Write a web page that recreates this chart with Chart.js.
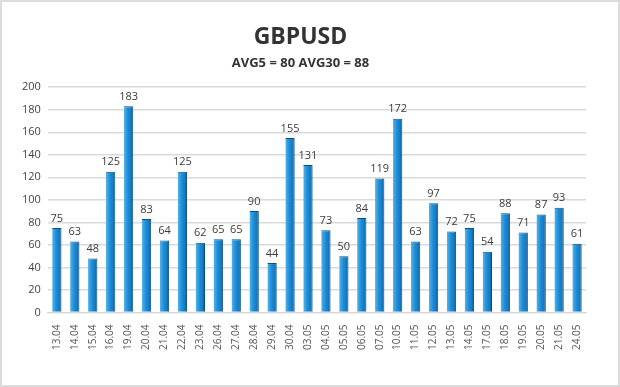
<!DOCTYPE html>
<html>
<head>
<meta charset="utf-8">
<script src="https://cdn.jsdelivr.net/npm/chart.js@4.4.1/dist/chart.umd.min.js"></script>
<style>
  html, body { margin: 0; padding: 0; background: #fff; }
  .frame { width: 616px; height: 383px; border: 2px solid #dcdcdc; position: relative; }
  canvas { display: block; }
</style>
</head>
<body>
<div class="frame"><canvas id="chart" width="616" height="383"></canvas></div>
<script>
// Данные графика
const dates = [
  "13.04", "14.04", "15.04", "16.04", "19.04", "20.04", "21.04", "22.04", "23.04", "26.04",
  "27.04", "28.04", "29.04", "30.04", "03.05", "04.05", "05.05", "06.05", "07.05", "10.05",
  "11.05", "12.05", "13.05", "14.05", "17.05", "18.05", "19.05", "20.05", "21.05", "24.05",
];
const volatility = [
  75, 63, 48, 125, 183, 83, 64, 125, 62, 65,
  65, 90, 44, 155, 131, 73, 50, 84, 119, 172,
  63, 97, 72, 75, 54, 88, 71, 87, 93, 61,
];
const yTicks = [0, 20, 40, 60, 80, 100, 120, 140, 160, 180, 200];
const titleText = "GBPUSD";
const subtitleText = "AVG5 = 80 AVG30 = 88";

const FONT = "'Open Sans', 'DejaVu Sans', sans-serif";

// Градиент по ширине столбика — имитация объёма
function barGradient(ctx) {
  const chart = ctx.chart;
  const x = chart.scales.x;
  if (!chart.chartArea || !x || ctx.dataIndex === undefined) return "#1f8ad2";
  const cx = x.getPixelForValue(ctx.dataIndex);
  const half = 4.5;
  const g = chart.ctx.createLinearGradient(cx - half, 0, cx + half, 0);
  g.addColorStop(0, "#52b2ec");
  g.addColorStop(0.45, "#1b8cd6");
  g.addColorStop(0.75, "#177cc4");
  g.addColorStop(1, "#0b5790");
  return g;
}

// Подписи значений над столбиками
const valueLabels = {
  id: "valueLabels",
  afterDatasetsDraw(chart) {
    const { ctx } = chart;
    const meta = chart.getDatasetMeta(0);
    ctx.save();
    ctx.font = "11px " + FONT;
    ctx.fillStyle = "#3a3a3a";
    ctx.textAlign = "center";
    ctx.textBaseline = "bottom";
    meta.data.forEach((bar, i) => {
      ctx.fillText(String(volatility[i]), bar.x, bar.y - 4);
    });
    ctx.restore();
  },
};

new Chart(document.getElementById("chart"), {
  type: "bar",
  data: {
    labels: dates,
    datasets: [
      {
        data: volatility,
        backgroundColor: barGradient,
        borderColor: "#0b4f82",
        borderWidth: { right: 1, top: 1 },
        borderSkipped: "bottom",
        categoryPercentage: 1,
        barPercentage: 0.52,
      },
    ],
  },
  options: {
    responsive: false,
    animation: false,
    layout: { padding: { left: 13, right: 32, top: 18, bottom: 31 } },
    plugins: {
      legend: { display: false },
      tooltip: { enabled: false },
      title: {
        display: true,
        text: titleText,
        color: "#333",
        font: { family: FONT, size: 23, weight: "bold" },
        padding: { top: 4, bottom: 4 },
      },
      subtitle: {
        display: true,
        text: subtitleText,
        color: "#333",
        font: { family: FONT, size: 13, weight: "bold" },
        padding: { top: 0, bottom: 16 },
      },
    },
    scales: {
      x: {
        grid: { display: false },
        border: { color: "#d6d6d6" },
        ticks: {
          color: "#555",
          font: { family: FONT, size: 10 },
          minRotation: 90,
          maxRotation: 90,
          autoSkip: false,
          padding: 4,
        },
      },
      y: {
        min: 0,
        max: 200,
        afterBuildTicks: (axis) => {
          axis.ticks = yTicks.map((v) => ({ value: v }));
        },
        grid: { color: "#dadada", lineWidth: 1.5, drawTicks: false },
        border: { display: false },
        ticks: {
          color: "#444",
          font: { family: FONT, size: 11 },
          padding: 7,
        },
      },
    },
  },
  plugins: [valueLabels],
});
</script>
</body>
</html>
